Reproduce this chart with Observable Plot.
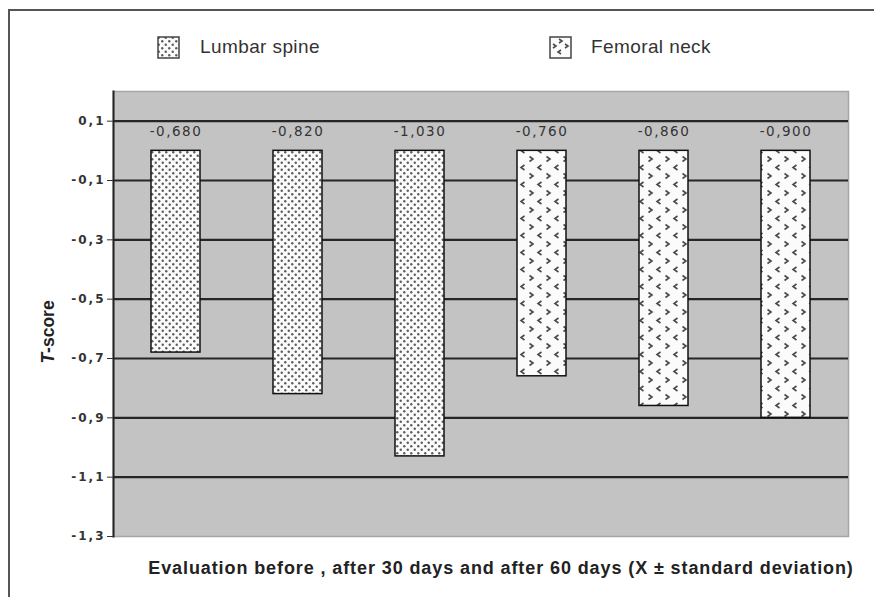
<!DOCTYPE html>
<html><head><meta charset="utf-8">
<script src="https://cdn.jsdelivr.net/npm/d3@7"></script>
<script src="https://cdn.jsdelivr.net/npm/@observablehq/plot@0.6"></script>
<style>
html,body{margin:0;background:#fff;overflow:hidden;}
#wrap{position:relative;width:874px;height:597px;overflow:hidden;font-family:"Liberation Sans",Arial,sans-serif;}
#border{position:absolute;left:8px;top:9px;width:900px;height:700px;border-top:2px solid #555;border-left:2px solid #555;pointer-events:none;}
#legend{position:relative;height:70px;}
.sw{position:absolute;top:36px;}
.lt{position:absolute;top:36px;font-size:19px;line-height:22px;color:#333;letter-spacing:0.4px;}
#chart svg{display:block;}
</style></head>
<body>
<div id="wrap">
  <div id="legend"></div>
  <div id="chart"></div>
  <div id="border"></div>
</div>
<script>
// ---- data ----
const categories = ["LS before", "LS 30 days", "LS 60 days", "FN before", "FN 30 days", "FN 60 days"];
const sites = ["Lumbar spine", "Lumbar spine", "Lumbar spine", "Femoral neck", "Femoral neck", "Femoral neck"];
const tScores = [-0.68, -0.82, -1.03, -0.76, -0.86, -0.90];
const valueLabels = ["-0,680", "-0,820", "-1,030", "-0,760", "-0,860", "-0,900"];
const yTicks = [0.1, -0.1, -0.3, -0.5, -0.7, -0.9, -1.1, -1.3];
const gridTicks = [0.1, -0.1, -0.3, -0.5, -0.7, -0.9, -1.1];
const legendItems = ["Lumbar spine", "Femoral neck"];
const yTitle = "T-score";
const xTitle = "Evaluation before , after 30 days and after 60 days (X \u00b1 standard deviation)";

const patternFor = {"Lumbar spine": "url(#dots)", "Femoral neck": "url(#chev)"};
const data = categories.map((c, i) => ({cat: c, site: sites[i], value: tScores[i], label: valueLabels[i]}));

function defsHTML(prefix) {
  return `
  <pattern id="${prefix}dots" width="7" height="7" patternUnits="userSpaceOnUse">
    <rect width="7" height="7" fill="#fbfbfb"/>
    <circle cx="1.75" cy="1.75" r="1.2" fill="#5c5c5c"/>
    <circle cx="5.25" cy="5.25" r="1.2" fill="#5c5c5c"/>
  </pattern>
  <pattern id="${prefix}chev" width="17" height="17" patternUnits="userSpaceOnUse">
    <rect width="17" height="17" fill="#fbfbfb"/>
    <path d="M2.5,1.5 L6,4 L2.5,6.5" fill="none" stroke="#4a4a4a" stroke-width="1.6"/>
    <path d="M14.5,10 L11,12.5 L14.5,15" fill="none" stroke="#4a4a4a" stroke-width="1.6"/>
  </pattern>`;
}

// ---- legend ----
const legend = document.getElementById("legend");
const legendPos = [{sw: 157, tx: 200}, {sw: 549, tx: 591}];
legendItems.forEach((name, i) => {
  const ns = "http://www.w3.org/2000/svg";
  const s = document.createElementNS(ns, "svg");
  s.setAttribute("width", 23); s.setAttribute("height", 23);
  s.setAttribute("class", "sw");
  s.style.left = legendPos[i].sw + "px";
  const pre = "lg" + i;
  let inner = `<defs>${defsHTML(pre)}</defs>`;
  if (name === "Lumbar spine") {
    inner += `<rect x="1" y="1" width="21" height="21" fill="url(#${pre}dots)" stroke="#444" stroke-width="1.5"/>`;
  } else {
    inner += `<rect x="1" y="1" width="21" height="21" fill="#fbfbfb" stroke="#444" stroke-width="1.5"/>
      <g fill="none" stroke="#4a4a4a" stroke-width="1.6">
        <path d="M10,3 L13,5 L10,7"/>
        <path d="M4,8 L7,10 L4,12"/>
        <path d="M16,8 L19,10 L16,12"/>
        <path d="M12,14 L9,16 L12,18"/>
      </g>`;
  }
  s.innerHTML = inner;
  legend.appendChild(s);
  const t = document.createElement("div");
  t.className = "lt"; t.style.left = legendPos[i].tx + "px"; t.textContent = name;
  legend.appendChild(t);
});

// ---- chart ----
const fmt = d => d3.format(".1f")(d).replace(".", ",").replace("\u2212", "-");
const chart = Plot.plot({
  width: 874,
  height: 527,
  marginLeft: 113,
  marginRight: 26,
  marginTop: 21,
  marginBottom: 61,
  style: {fontFamily: "DejaVu Sans, sans-serif", background: "white"},
  x: {domain: categories, paddingInner: 0.6, paddingOuter: 0.3, axis: null},
  y: {domain: [-1.3, 0.2], axis: null},
  marks: [
    Plot.frame({fill: "#c3c3c3", stroke: "#a5a5a5", strokeWidth: 1.5}),
    Plot.ruleY(gridTicks, {stroke: "#262626", strokeWidth: 2.2}),
    Plot.frame({anchor: "left", stroke: "#222", strokeWidth: 2}),
    Plot.axisY({ticks: yTicks, tickFormat: fmt, tickSize: 6, tickPadding: 2, fontSize: 12, fontWeight: "bold", color: "#333", label: null}),
    Plot.barY(data.filter(d => d.site === "Lumbar spine"), {x: "cat", y1: 0, y2: "value", fill: patternFor["Lumbar spine"], stroke: "#111", strokeWidth: 1.5}),
    Plot.barY(data.filter(d => d.site === "Femoral neck"), {x: "cat", y1: 0, y2: "value", fill: patternFor["Femoral neck"], stroke: "#111", strokeWidth: 1.5}),
    Plot.text(data, {x: "cat", y: 0, text: "label", dy: -19, fontSize: 13.5, fill: "#333"}),
    Plot.text([yTitle], {frameAnchor: "left", textAnchor: "middle", rotate: -90, dx: -65, dy: 18, fontSize: 17.5, fontWeight: "bold", fontFamily: "Liberation Sans, Arial, sans-serif", fill: "#222"}),
    Plot.text([xTitle], {frameAnchor: "bottom", dx: 20, dy: 37, fontSize: 18, fontWeight: "bold", fontFamily: "Liberation Sans, Arial, sans-serif", fill: "#222"})
  ]
});
d3.select(chart).insert("defs", ":first-child").html(defsHTML(""));
d3.select(chart).selectAll("text").each(function() {
  const t = this.textContent;
  if (valueLabels.includes(t)) this.setAttribute("letter-spacing", "1.5");
  if (yTicks.map(fmt).includes(t)) this.setAttribute("letter-spacing", "2");
  if (t === xTitle) this.setAttribute("letter-spacing", "0.9");
  if (t === yTitle) {
    this.textContent = "";
    const ns = "http://www.w3.org/2000/svg";
    const a = document.createElementNS(ns, "tspan");
    a.setAttribute("font-style", "italic"); a.textContent = "T";
    this.appendChild(a);
    this.appendChild(document.createTextNode("-score"));
  }
});
document.getElementById("chart").appendChild(chart);
</script>
</body></html>
